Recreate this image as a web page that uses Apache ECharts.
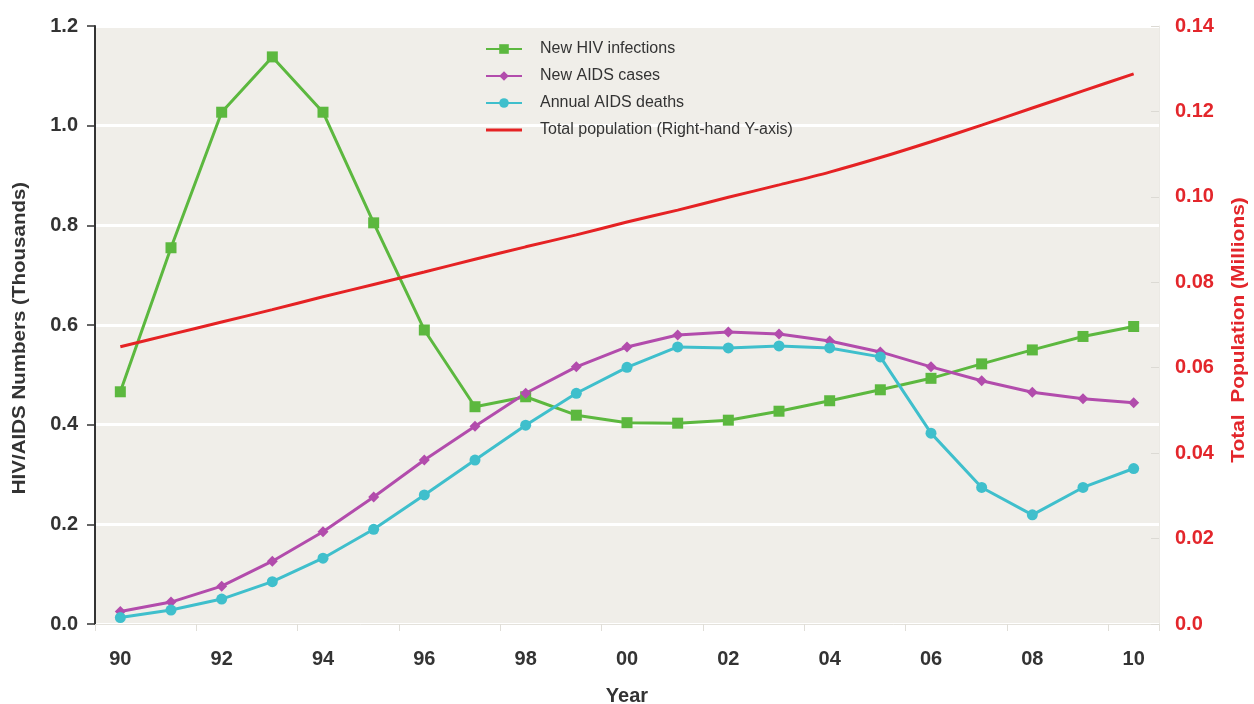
<!DOCTYPE html>
<html><head><meta charset="utf-8">
<script src="https://cdn.jsdelivr.net/npm/echarts@6/dist/echarts.min.js"></script>
<style>html,body{margin:0;padding:0;background:#fff}#c{width:1254px;height:704px}</style>
</head><body><div id="c"></div>
<script>
const years = ['90','91','92','93','94','95','96','97','98','99','00','01','02','03','04','05','06','07','08','09','10'];
const newHIV = [0.466,0.755,1.027,1.138,1.027,0.805,0.590,0.436,0.456,0.419,0.404,0.403,0.409,0.427,0.448,0.470,0.493,0.522,0.550,0.577,0.597];
const newAIDS = [0.025,0.044,0.076,0.126,0.185,0.255,0.329,0.397,0.463,0.516,0.556,0.580,0.586,0.582,0.568,0.546,0.516,0.488,0.465,0.452,0.444];
const aidsDeaths = [0.013,0.028,0.050,0.085,0.132,0.190,0.259,0.329,0.399,0.463,0.515,0.556,0.554,0.558,0.554,0.536,0.383,0.274,0.219,0.274,0.312];
const population = [0.0649,0.0678,0.0707,0.0736,0.0766,0.0795,0.0824,0.0854,0.0883,0.0911,0.0941,0.0969,0.0999,0.1028,0.1058,0.1092,0.1129,0.1168,0.1208,0.1248,0.1288];
const leftTicks = ['0.0','0.2','0.4','0.6','0.8','1.0','1.2'];
const rightTicks = ['0.0','0.02','0.04','0.06','0.08','0.10','0.12','0.14'];

const FONT = '"Liberation Sans", Arial, sans-serif';
const chart = echarts.init(document.getElementById('c'));
chart.setOption({
  animation: false,
  textStyle: {fontFamily: FONT},
  grid: {left: 95, right: 95, top: 26, bottom: 80, show: true, backgroundColor: '#f0eee9', borderWidth: 0,
         containLabel: false, outerBoundsMode: 'none'},
  legend: {
    orient: 'vertical', left: 480, top: 36, itemGap: 11, itemWidth: 36, itemHeight: 12,
    textStyle: {fontSize: 16, color: '#333', fontFamily: FONT, padding: [0, 0, 0, 13]},
    data: ['New HIV infections','New AIDS cases','Annual AIDS deaths',
      {name: 'Total population (Right-hand Y-axis)', icon: 'path://M0,0L40,0L40,3.2L0,3.2Z'}]
  },
  xAxis: {
    type: 'category', data: years, boundaryGap: true,
    name: 'Year', nameLocation: 'middle', nameGap: 62,
    nameTextStyle: {fontSize: 20, fontWeight: 'bold', color: '#333'},
    axisLine: {lineStyle: {color: '#e4e2dc', width: 1}},
    axisTick: {show: true, length: 7, lineStyle: {color: '#e0ded8'}},
    axisLabel: {interval: 1, margin: 25, fontSize: 20, fontWeight: 'bold', color: '#333'}
  },
  yAxis: [{
    type: 'value', min: 0, max: 1.2, interval: 0.2,
    axisLine: {show: true, lineStyle: {color: '#333', width: 2}},
    axisTick: {show: true, length: 8, lineStyle: {color: '#333', width: 1.5}},
    axisLabel: {margin: 17, fontSize: 20, fontWeight: 'bold', color: '#333',
      formatter: function(v){ return leftTicks[Math.round(v/0.2)]; }},
    splitLine: {show: true, lineStyle: {color: '#ffffff', width: 3}}
  },{
    type: 'value', min: 0, max: 0.14, interval: 0.02,
    axisLine: {show: true, lineStyle: {color: '#ebe9e4', width: 1}},
    axisTick: {show: true, inside: true, length: 8, lineStyle: {color: '#dcdad4'}},
    axisLabel: {margin: 16, fontSize: 20, fontWeight: 'bold', color: '#e3262b',
      formatter: function(v){ return rightTicks[Math.round(v/0.02)]; }},
    splitLine: {show: false}
  }],
  graphic: [
    {type: 'text', rotation: Math.PI/2, x: 20, y: 338, scaleX: 1.08, style: {
      text: 'HIV/AIDS Numbers (Thousands)', font: 'bold 19px ' + FONT, fill: '#333',
      textAlign: 'center', textVerticalAlign: 'middle'}},
    {type: 'text', rotation: Math.PI/2, x: 1239, y: 330, scaleX: 1.1, style: {
      text: 'Total  Population (Millions)', font: 'bold 19px ' + FONT, fill: '#e3262b',
      textAlign: 'center', textVerticalAlign: 'middle'}}
  ],
  series: [
    {name: 'New HIV infections', type: 'line', data: newHIV, yAxisIndex: 0,
     symbol: 'rect', symbolSize: 11, itemStyle: {color: '#5cb83f'}, lineStyle: {color: '#5cb83f', width: 3}},
    {name: 'New AIDS cases', type: 'line', data: newAIDS, yAxisIndex: 0,
     symbol: 'diamond', symbolSize: 11, itemStyle: {color: '#b24cac'}, lineStyle: {color: '#b24cac', width: 3}},
    {name: 'Annual AIDS deaths', type: 'line', data: aidsDeaths, yAxisIndex: 0,
     symbol: 'circle', symbolSize: 11, itemStyle: {color: '#3fbfcc'}, lineStyle: {color: '#3fbfcc', width: 3}},
    {name: 'Total population (Right-hand Y-axis)', type: 'line', data: population, yAxisIndex: 1,
     symbol: 'none', smooth: 0.3, itemStyle: {color: '#e52224'}, lineStyle: {color: '#e52224', width: 3}}
  ]
});
</script></body></html>
